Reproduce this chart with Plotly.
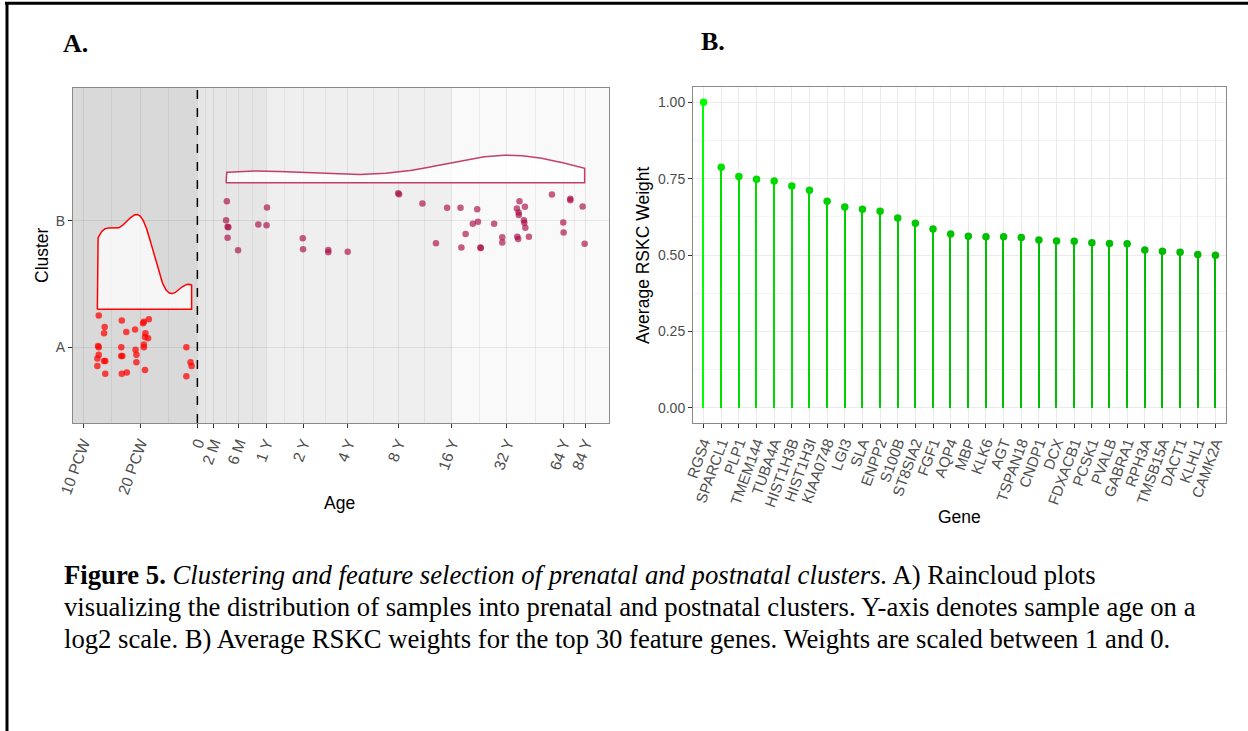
import numpy as np
import plotly.graph_objects as go

W, H = 1248, 731

# ---------------- Panel A: sample ages per cluster ----------------
# Prenatal samples (cluster A), age in post-conception weeks, with vertical jitter
prenatal_age_pcw = [12.1, 16.0, 22.2, 20.9, 20.7, 13.0, 12.9, 16.9, 18.8, 21.3, 21.2, 22.0,
                    12.0, 12.1, 15.9, 18.9, 20.9, 20.9, 35.0, 12.1, 15.9, 16.1, 19.1, 11.9,
                    12.9, 13.1, 19.1, 11.9, 36.8, 37.3, 13.1, 16.0, 17.0, 21.2, 35.0]
prenatal_jitter = [0.25, 0.21, 0.22, 0.20, 0.19, 0.16, 0.11, 0.12, 0.14, 0.11, 0.08, 0.07,
                   0.01, 0.00, 0.00, -0.02, 0.02, 0.00, 0.00, -0.06, -0.07, -0.07, -0.06, -0.09,
                   -0.11, -0.11, -0.12, -0.15, -0.12, -0.15, -0.21, -0.21, -0.20, -0.18, -0.23]

# Postnatal samples (cluster B), age in years after birth, with vertical jitter
postnatal_age_years = [0.33, 0.32, 0.34, 0.35, 0.34, 0.49, 0.84, 1.01, 1.02, 1.99, 2.00, 2.99,
                       2.99, 3.99, 8.0, 8.1, 11.0, 13.1, 15.1, 17.9, 18.1, 19.1, 20.9, 22.1,
                       22.3, 23.0, 23.1, 27.3, 30.2, 30.2, 36.2, 36.4, 36.8, 37.0, 37.1, 37.4,
                       39.5, 39.7, 40.0, 40.2, 42.0, 55.8, 64.1, 64.4, 69.9, 69.9, 81.3, 83.3]
postnatal_jitter = [0.155, 0.003, -0.047, -0.052, -0.134, -0.233, -0.029, -0.036, 0.105, -0.139,
                    -0.225, -0.231, -0.249, -0.246, 0.218, 0.210, 0.137, -0.178, 0.103, 0.103,
                    -0.212, -0.105, -0.023, 0.090, -0.008, -0.212, -0.215, -0.023, -0.131, -0.173,
                    0.097, -0.126, -0.144, 0.066, 0.045, 0.155, 0.003, -0.016, 0.110, -0.055,
                    -0.126, 0.208, -0.013, -0.094, 0.173, 0.163, 0.113, -0.182]

cluster_labels = ["A", "B"]

prenatal_tick_pcw = [10, 20]
prenatal_tick_labels = ["10 PCW", "20 PCW"]
postnatal_tick_years = [0, 2 / 12, 0.5, 1, 2, 4, 8, 16, 32, 64, 84]
postnatal_tick_labels = ["0", "2 M", "6 M", "1 Y", "2 Y", "4 Y", "8 Y", "16 Y", "32 Y", "64 Y", "84 Y"]

# Life-stage shading: prenatal | infancy (to 1 Y) | childhood/adolescence (to 16 Y) | adult
stage_bounds_years = [0, 1, 16]
stage_fills = ["#D9D9D9", "#E6E6E6", "#EFEFEF", "#F9F9F9"]

# ---------------- Panel B: RSKC feature weights ----------------
genes = ["RGS4", "SPARCL1", "PLP1", "TMEM144", "TUBA4A", "HIST1H3B", "HIST1H3I", "KIAA0748",
         "LGI3", "SLA", "ENPP2", "S100B", "ST8SIA2", "FGF1", "AQP4", "MBP", "KLK6", "AGT",
         "TSPAN18", "CNDP1", "DCX", "FDXACB1", "PCSK1", "PVALB", "GABRA1", "RPH3A", "TMSB15A",
         "DACT1", "KLHL1", "CAMK2A"]
weights = [1.000, 0.787, 0.757, 0.748, 0.742, 0.726, 0.712, 0.676, 0.657, 0.650, 0.643, 0.621,
           0.604, 0.585, 0.569, 0.561, 0.560, 0.560, 0.557, 0.549, 0.546, 0.545, 0.540, 0.538,
           0.537, 0.516, 0.512, 0.509, 0.502, 0.499]

BIRTH_PCW = 40
WEEKS_PER_YEAR = 52


def to_pcw(years):
    return BIRTH_PCW + np.asarray(years, dtype=float) * WEEKS_PER_YEAR


def flat_density(ages_pcw, n=512):
    """Gaussian KDE on the log2 age scale (Silverman nrd0 bandwidth), trimmed to the data."""
    x = np.log2(np.asarray(ages_pcw, dtype=float))
    sd = x.std(ddof=1)
    q75, q25 = np.percentile(x, [75, 25])
    bw = 0.9 * min(sd, (q75 - q25) / 1.34) * len(x) ** -0.2
    grid = np.linspace(x.min(), x.max(), n)
    dens = np.exp(-0.5 * ((grid[:, None] - x[None, :]) / bw) ** 2).sum(axis=1)
    dens /= len(x) * bw * np.sqrt(2 * np.pi)
    return grid, dens


def px(x):
    return x / W


def py(y):
    return 1 - y / H


pre_pcw = np.asarray(prenatal_age_pcw, dtype=float)
post_pcw = to_pcw(postnatal_age_years)
all_log2 = np.log2(np.concatenate([pre_pcw, post_pcw]))
lo, hi = all_log2.min(), all_log2.max()
pad = 0.05 * (hi - lo)
x_range_log10 = [(lo - pad) * np.log10(2), (hi + pad) * np.log10(2)]
x_left, x_right = 2 ** (lo - pad), 2 ** (hi + pad)

tick_pcw = list(prenatal_tick_pcw) + list(to_pcw(postnatal_tick_years))
tick_text = prenatal_tick_labels + postnatal_tick_labels
minor_pcw = [float(np.sqrt(a * b)) for a, b in zip(tick_pcw[:-1], tick_pcw[1:])]

RED = "rgb(255,0,0)"
RED_PT = "rgba(255,0,0,0.72)"
ROSE = "rgba(185,30,85,0.85)"
ROSE_PT = "rgba(170,10,70,0.66)"

NUDGE = 0.3
HALF_WIDTH = 0.75

fig = go.Figure()

# Raincloud halves (flat violins) above each cluster
g_pre, d_pre = flat_density(pre_pcw)
g_post, d_post = flat_density(post_pcw)
scale = HALF_WIDTH / max(d_pre.max(), d_post.max())
for grid, dens, base, col in [(g_pre, d_pre, 1 + NUDGE, RED), (g_post, d_post, 2 + NUDGE, ROSE)]:
    xs = np.concatenate([[grid[0]], grid, [grid[-1], grid[0]]])
    ys = np.concatenate([[base], base + dens * scale, [base, base]])
    fig.add_trace(go.Scatter(
        x=2 ** xs, y=ys, mode="lines", fill="toself",
        fillcolor="rgba(255,255,255,0.75)", line=dict(color=col, width=1.5),
        xaxis="x", yaxis="y", hoverinfo="skip", showlegend=False))

# Sample points
fig.add_trace(go.Scatter(
    x=pre_pcw, y=1 + np.asarray(prenatal_jitter), mode="markers",
    marker=dict(color=RED_PT, size=6.5, line=dict(width=0)),
    xaxis="x", yaxis="y", showlegend=False))
fig.add_trace(go.Scatter(
    x=post_pcw, y=2 + np.asarray(postnatal_jitter), mode="markers",
    marker=dict(color=ROSE_PT, size=6.5, line=dict(width=0)),
    xaxis="x", yaxis="y", showlegend=False))

# Lollipops for RSKC weights, coloured by weight
w = np.asarray(weights)
t = (w - w.min()) / (w.max() - w.min())
lo_c, hi_c = np.array([0, 185, 0]), np.array([0, 255, 0])
colors = [f"rgb({int(c[0])},{int(c[1])},{int(c[2])})" for c in (lo_c + np.outer(t, hi_c - lo_c))]
fig.add_trace(go.Bar(
    x=genes, y=weights, width=0.08, marker=dict(color=colors, line=dict(width=0)),
    xaxis="x2", yaxis="y2", showlegend=False))
fig.add_trace(go.Scatter(
    x=genes, y=weights, mode="markers", marker=dict(color=colors, size=7.5, line=dict(width=0)),
    xaxis="x2", yaxis="y2", showlegend=False))

SANS = "Liberation Sans, Arial, sans-serif"
SERIF = "Liberation Serif, Times New Roman, serif"
ytick_font = dict(family=SANS, size=14, color="#4D4D4D")
xtick_font = dict(family=SANS, size=15.5, color="#4D4D4D")
gene_font = dict(family=SANS, size=15, color="#4D4D4D")
title_font = dict(family=SANS, size=17.5, color="black")
axis_common = dict(showline=True, mirror=True, linecolor="#8A8A8A", linewidth=1,
                   ticks="outside", ticklen=4, tickwidth=1, tickcolor="#333333",
                   zeroline=False, gridwidth=1, automargin=False)
GRID = "rgba(0,0,0,0.078)"
GRID_MINOR = "rgba(0,0,0,0.05)"

shapes = []
# Life-stage bands (grid lines are drawn over them)
edges = [x_left] + list(to_pcw(stage_bounds_years)) + [x_right]
for (a, b), fc in zip(zip(edges[:-1], edges[1:]), stage_fills):
    shapes.append(dict(type="rect", xref="x", yref="y domain", x0=a, x1=b, y0=0, y1=1,
                       fillcolor=fc, line=dict(width=0), layer="below"))
# Birth marker
shapes.append(dict(type="line", xref="x", yref="y domain", x0=BIRTH_PCW, x1=BIRTH_PCW, y0=0, y1=1,
                   line=dict(color="black", width=1.5, dash="dash"), layer="above"))
# Page frame
shapes.append(dict(type="line", xref="paper", yref="paper", x0=px(5), x1=1, y0=py(3.3), y1=py(3.3),
                   line=dict(color="black", width=3)))
shapes.append(dict(type="line", xref="paper", yref="paper", x0=px(7), x1=px(7), y0=py(2), y1=0,
                   line=dict(color="black", width=3)))

annotations = [
    dict(text="<b>A.</b>", x=px(61), y=py(43), xanchor="left", yanchor="middle",
         font=dict(family=SERIF, size=26, color="black")),
    dict(text="<b>B.</b>", x=px(699), y=py(42), xanchor="left", yanchor="middle",
         font=dict(family=SERIF, size=26, color="black")),
    dict(text="Cluster", x=px(42), y=py(255), textangle=-90, font=title_font,
         xanchor="center", yanchor="middle"),
    dict(text="Age", x=px(340), y=py(503), font=title_font, xanchor="center", yanchor="middle"),
    dict(text="Average RSKC Weight", x=px(643), y=py(255), textangle=-90, font=title_font,
         xanchor="center", yanchor="middle"),
    dict(text="Gene", x=px(959), y=py(517), font=title_font, xanchor="center", yanchor="middle"),
]
caption_lines = [
    "<b>Figure 5.</b> <i>Clustering and feature selection of prenatal and postnatal clusters.</i> A) Raincloud plots",
    "visualizing the distribution of samples into prenatal and postnatal clusters. Y-axis denotes sample age on a",
    "log2 scale. B) Average RSKC weights for the top 30 feature genes. Weights are scaled between 1 and 0.",
]
for line, yc in zip(caption_lines, [575, 607, 639]):
    annotations.append(dict(text=line, x=px(62), y=py(yc), xanchor="left", yanchor="middle",
                            font=dict(family=SERIF, size=26.7, color="black")))
for a in annotations:
    a.update(xref="paper", yref="paper", showarrow=False)

fig.update_layout(
    width=W, height=H, autosize=False,
    margin=dict(l=0, r=0, t=0, b=0, autoexpand=False),
    paper_bgcolor="white", plot_bgcolor="white",
    bargap=0, showlegend=False,
    xaxis=dict(axis_common, type="log", domain=[px(73), px(609)], range=x_range_log10,
               tickmode="array", tickvals=tick_pcw, ticktext=tick_text, tickangle=-70,
               tickfont=xtick_font, showgrid=True, gridcolor=GRID, anchor="y",
               minor=dict(tickvals=minor_pcw, showgrid=True, gridcolor=GRID_MINOR, ticks="")),
    yaxis=dict(axis_common, domain=[py(423), py(88)], range=[0.4, 3.05],
               tickmode="array", tickvals=[1, 2], ticktext=cluster_labels, tickfont=ytick_font,
               showgrid=True, gridcolor=GRID, anchor="x"),
    xaxis2=dict(axis_common, domain=[px(693), px(1226)], range=[-0.6, len(genes) - 0.4],
                type="category", tickmode="array", tickvals=genes, ticktext=genes,
                tickangle=-70, tickfont=gene_font,
                showgrid=True, gridcolor="#EBEBEB", anchor="y2"),
    yaxis2=dict(axis_common, domain=[py(423), py(87)], range=[-0.05, 1.05],
                tickmode="array", tickvals=[0, 0.25, 0.5, 0.75, 1.0], tickformat=".2f",
                tickfont=ytick_font, showgrid=True, gridcolor="#EBEBEB", anchor="x2",
                minor=dict(tickvals=[0.125, 0.375, 0.625, 0.875], showgrid=True,
                           gridcolor="#F4F4F4", ticks="")),
    shapes=shapes,
    annotations=annotations,
)

fig.write_html("out.html")
